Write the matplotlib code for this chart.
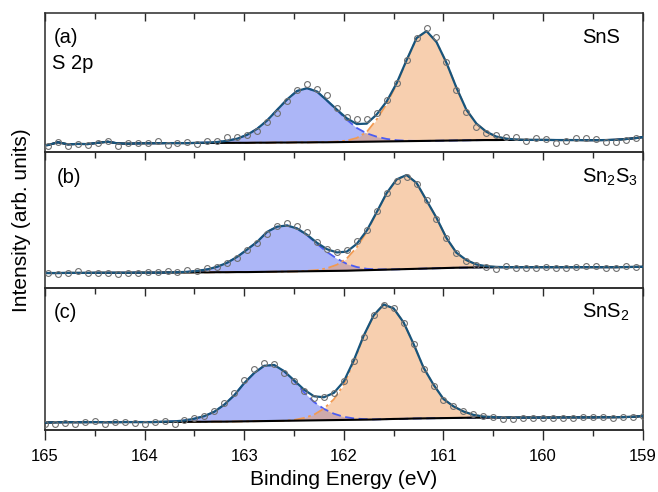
"""
plot_s2p.py — S 2p core-level spectra of SnS, Sn2S3 and SnS2.

Three stacked panels sharing the binding-energy axis. Each panel shows the
measured points, the Shirley-type background, the two doublet components
(S 2p1/2 in blue, S 2p3/2 in orange) and the total fit.
"""

import numpy as np
import matplotlib.pyplot as plt
from matplotlib.ticker import MultipleLocator

plt.rcParams["font.family"] = ["Liberation Sans", "DejaVu Sans"]
plt.rcParams["mathtext.fontset"] = "custom"
plt.rcParams["mathtext.rm"] = "Liberation Sans"

# binding energy grids (eV); SnS and Sn2S3 were sampled on an offset grid
be_ab = [165.07, 164.97, 164.87, 164.77, 164.67, 164.57, 164.47, 164.37, 164.27, 164.17,
         164.07, 163.97, 163.87, 163.77, 163.67, 163.57, 163.47, 163.37, 163.27, 163.17,
         163.07, 162.97, 162.87, 162.77, 162.67, 162.57, 162.47, 162.37, 162.27, 162.17,
         162.07, 161.97, 161.87, 161.77, 161.67, 161.57, 161.47, 161.37, 161.27, 161.17,
         161.07, 160.97, 160.87, 160.77, 160.67, 160.57, 160.47, 160.37, 160.27, 160.17,
         160.07, 159.97, 159.87, 159.77, 159.67, 159.57, 159.47, 159.37, 159.27, 159.17,
         159.07, 158.97]
be_c = [165.0, 164.9, 164.8, 164.7, 164.6, 164.5, 164.4, 164.3, 164.2, 164.1,
        164.0, 163.9, 163.8, 163.7, 163.6, 163.5, 163.4, 163.3, 163.2, 163.1,
        163.0, 162.9, 162.8, 162.7, 162.6, 162.5, 162.4, 162.3, 162.2, 162.1,
        162.0, 161.9, 161.8, 161.7, 161.6, 161.5, 161.4, 161.3, 161.2, 161.1,
        161.0, 160.9, 160.8, 160.7, 160.6, 160.5, 160.4, 160.3, 160.2, 160.1,
        160.0, 159.9, 159.8, 159.7, 159.6, 159.5, 159.4, 159.3, 159.2, 159.1,
        159.0]

# (a) SnS — intensities normalised to the panel height
data_a = [0.050, 0.046, 0.074, 0.046, 0.058, 0.050, 0.062, 0.079, 0.046, 0.062, 0.062,
          0.062, 0.079, 0.050, 0.067, 0.074, 0.058, 0.081, 0.081, 0.106, 0.110,
          0.120, 0.153, 0.218, 0.278, 0.369, 0.446, 0.487, 0.451, 0.412, 0.314,
          0.250, 0.236, 0.234, 0.280, 0.374, 0.494, 0.662, 0.818, 0.890, 0.825,
          0.650, 0.446, 0.290, 0.182, 0.134, 0.122, 0.110, 0.106, 0.081, 0.103,
          0.094, 0.067, 0.081, 0.098, 0.103, 0.091, 0.072, 0.074, 0.086, 0.098,
          0.105]
bg_a = [0.045, 0.050, 0.070, 0.055, 0.058, 0.057, 0.066, 0.074, 0.062, 0.060, 0.062,
        0.063, 0.063, 0.064, 0.064, 0.064, 0.065, 0.065, 0.065, 0.066, 0.066,
        0.066, 0.067, 0.067, 0.068, 0.068, 0.069, 0.069, 0.070, 0.070, 0.071,
        0.072, 0.073, 0.074, 0.075, 0.076, 0.077, 0.078, 0.079, 0.080, 0.081,
        0.082, 0.083, 0.084, 0.085, 0.086, 0.086, 0.087, 0.087, 0.087, 0.087,
        0.087, 0.086, 0.086, 0.086, 0.085, 0.085, 0.086, 0.088, 0.093, 0.100,
        0.110]
blue_a = [0, 0, 0, 0, 0, 0, 0, 0, 0, 0, 0,
          0, 0, 0, 0, 0, 0.001, 0.003, 0.007, 0.015, 0.030,
          0.058, 0.100, 0.160, 0.235, 0.310, 0.370, 0.390, 0.365, 0.300, 0.230,
          0.160, 0.100, 0.060, 0.035, 0.018, 0.008, 0.003, 0.001, 0, 0,
          0, 0, 0, 0, 0, 0, 0, 0, 0, 0,
          0, 0, 0, 0, 0, 0, 0, 0, 0, 0,
          0]
orange_a = [0, 0, 0, 0, 0, 0, 0, 0, 0, 0, 0,
            0, 0, 0, 0, 0, 0, 0, 0, 0, 0,
            0, 0, 0, 0, 0, 0, 0, 0, 0.001, 0.004,
            0.010, 0.028, 0.070, 0.160, 0.270, 0.410, 0.580, 0.740, 0.790, 0.710,
            0.560, 0.380, 0.220, 0.120, 0.060, 0.025, 0.009, 0.003, 0, 0,
            0, 0, 0, 0, 0, 0, 0, 0, 0, 0,
            0]

# (b) Sn2S3
data_b = [0.110, 0.114, 0.105, 0.114, 0.127, 0.114, 0.110, 0.114, 0.105, 0.110, 0.114,
          0.121, 0.121, 0.129, 0.121, 0.134, 0.129, 0.146, 0.158, 0.183, 0.219,
          0.280, 0.334, 0.402, 0.456, 0.480, 0.456, 0.414, 0.341, 0.285, 0.268,
          0.280, 0.348, 0.431, 0.565, 0.699, 0.787, 0.816, 0.768, 0.646, 0.512,
          0.366, 0.260, 0.202, 0.170, 0.158, 0.139, 0.163, 0.151, 0.151, 0.151,
          0.158, 0.151, 0.146, 0.154, 0.165, 0.163, 0.151, 0.151, 0.165, 0.158,
          0.160]
bg_b = [0.112, 0.112, 0.112, 0.113, 0.113, 0.113, 0.114, 0.114, 0.114, 0.114, 0.115,
        0.115, 0.115, 0.116, 0.116, 0.116, 0.117, 0.117, 0.118, 0.118, 0.119,
        0.119, 0.120, 0.121, 0.122, 0.123, 0.124, 0.125, 0.126, 0.127, 0.128,
        0.129, 0.131, 0.133, 0.135, 0.137, 0.139, 0.141, 0.143, 0.145, 0.147,
        0.149, 0.151, 0.152, 0.153, 0.154, 0.154, 0.155, 0.155, 0.155, 0.155,
        0.155, 0.155, 0.155, 0.155, 0.155, 0.155, 0.155, 0.155, 0.156, 0.157,
        0.158]
blue_b = [0, 0, 0, 0, 0, 0, 0, 0, 0, 0, 0,
          0, 0, 0, 0.002, 0.005, 0.011, 0.022, 0.040, 0.070, 0.112,
          0.166, 0.221, 0.293, 0.330, 0.338, 0.315, 0.265, 0.200, 0.140, 0.090,
          0.050, 0.025, 0.010, 0.004, 0.002, 0, 0, 0, 0, 0,
          0, 0, 0, 0, 0, 0, 0, 0, 0, 0,
          0, 0, 0, 0, 0, 0, 0, 0, 0, 0,
          0]
orange_b = [0, 0, 0, 0, 0, 0, 0, 0, 0, 0, 0,
            0, 0, 0, 0, 0, 0, 0, 0, 0, 0,
            0, 0, 0, 0, 0, 0, 0.003, 0.008, 0.020, 0.045,
            0.090, 0.170, 0.280, 0.420, 0.560, 0.660, 0.690, 0.630, 0.500, 0.370,
            0.220, 0.110, 0.055, 0.022, 0.008, 0.003, 0, 0, 0, 0,
            0, 0, 0, 0, 0, 0, 0, 0, 0, 0,
            0]

# (c) SnS2
data_c = [0.045, 0.040, 0.048, 0.040, 0.055, 0.064, 0.040, 0.055, 0.055, 0.048,
          0.040, 0.055, 0.060, 0.040, 0.071, 0.083, 0.102, 0.136, 0.190, 0.262,
          0.350, 0.429, 0.471, 0.464, 0.405, 0.345, 0.274, 0.226, 0.231, 0.262,
          0.345, 0.488, 0.655, 0.810, 0.881, 0.864, 0.755, 0.607, 0.429, 0.310,
          0.214, 0.171, 0.136, 0.112, 0.100, 0.090, 0.080, 0.076, 0.082, 0.083,
          0.085, 0.083, 0.085, 0.084, 0.093, 0.094, 0.090, 0.087, 0.090, 0.095,
          0.100]
bg_c = [0.052, 0.054, 0.055, 0.055, 0.055, 0.056, 0.055, 0.055, 0.056, 0.056,
        0.056, 0.056, 0.057, 0.057, 0.057, 0.058, 0.058, 0.059, 0.059, 0.060,
        0.061, 0.062, 0.063, 0.064, 0.065, 0.066, 0.067, 0.068, 0.069, 0.070,
        0.071, 0.072, 0.073, 0.074, 0.076, 0.078, 0.079, 0.081, 0.082, 0.083,
        0.084, 0.085, 0.086, 0.087, 0.087, 0.088, 0.088, 0.088, 0.088, 0.088,
        0.088, 0.088, 0.089, 0.089, 0.089, 0.089, 0.090, 0.090, 0.091, 0.093,
        0.098]
blue_c = [0, 0, 0, 0, 0, 0, 0, 0, 0, 0,
          0, 0, 0.002, 0.004, 0.010, 0.022, 0.040, 0.070, 0.120, 0.185,
          0.270, 0.340, 0.390, 0.395, 0.350, 0.280, 0.200, 0.130, 0.080, 0.045,
          0.022, 0.010, 0.004, 0.001, 0, 0, 0, 0, 0, 0,
          0, 0, 0, 0, 0, 0, 0, 0, 0, 0,
          0, 0, 0, 0, 0, 0, 0, 0, 0, 0,
          0]
orange_c = [0, 0, 0, 0, 0, 0, 0, 0, 0, 0,
            0, 0, 0, 0, 0, 0, 0, 0, 0, 0,
            0, 0, 0, 0, 0, 0.005, 0.018, 0.040, 0.082, 0.147,
            0.250, 0.410, 0.590, 0.735, 0.810, 0.780, 0.680, 0.526, 0.358, 0.237,
            0.135, 0.082, 0.045, 0.020, 0.008, 0.003, 0, 0, 0, 0,
            0, 0, 0, 0, 0, 0, 0, 0, 0, 0,
            0]

x_ticks = [165, 164, 163, 162, 161, 160, 159]

FIT_COLOR = "#17547c"
BLUE_FILL = "#5a6ef0"
ORANGE_FILL = "#f0a060"
BLUE_LINE = "#4b5cf2"
ORANGE_LINE = "#f29a52"
POINT_EDGE = "#707070"
SPINE = "#2a2a2a"


def draw_panel(ax, be, data, bg, blue, orange):
    """Background, both components, total fit and measured points."""
    bg = np.asarray(bg)
    blue_top = bg + np.asarray(blue)
    orange_top = bg + np.asarray(orange)
    fit = blue_top + np.asarray(orange)

    ax.fill_between(be, bg, blue_top, color=BLUE_FILL, alpha=0.5, lw=0, zorder=1)
    ax.fill_between(be, bg, orange_top, color=ORANGE_FILL, alpha=0.5, lw=0, zorder=1.1)
    ax.plot(be, blue_top, ls=(0, (5, 2.5)), color=BLUE_LINE, lw=1.3, zorder=2)
    ax.plot(be, orange_top, ls=(0, (6, 2, 1.5, 2)), color=ORANGE_LINE, lw=1.3, zorder=2.1)
    ax.plot(be, bg, color="black", lw=1.5, zorder=3)
    ax.plot(be, fit, color=FIT_COLOR, lw=1.6, zorder=4)
    ax.plot(be, data, ls="none", marker="o", ms=4.2, mfc="none",
            mec=POINT_EDGE, mew=0.8, zorder=5)

    ax.set_xlim(165, 159)
    ax.set_ylim(0, 1)
    ax.set_yticks([])
    ax.set_xticks(x_ticks)
    ax.xaxis.set_minor_locator(MultipleLocator(0.5))
    ax.tick_params(axis="x", which="both", direction="in", top=True, bottom=False,
                   labelbottom=False, color=SPINE, width=1.0)
    ax.tick_params(axis="x", which="major", length=5.5)
    ax.tick_params(axis="x", which="minor", length=4)
    for sp in ax.spines.values():
        sp.set_linewidth(1.1)
        sp.set_color(SPINE)
    ax.patch.set_visible(False)


def main(out_path):
    fig = plt.figure(figsize=(6.58, 4.92), dpi=100)
    left, width = 45 / 658, 597.7 / 658
    ax_a = fig.add_axes([left, 1 - 152 / 492, width, 139 / 492])
    ax_b = fig.add_axes([left, 1 - 288.3 / 492, width, 136.3 / 492])
    ax_c = fig.add_axes([left, 1 - 430 / 492, width, 141.7 / 492])

    draw_panel(ax_a, be_ab, data_a, bg_a, blue_a, orange_a)
    draw_panel(ax_b, be_ab, data_b, bg_b, blue_b, orange_b)
    draw_panel(ax_c, be_c, data_c, bg_c, blue_c, orange_c)

    txt = dict(fontsize=14.5, va="baseline")
    ax_a.text(0.014, 0.785, "(a)", transform=ax_a.transAxes, **txt)
    ax_a.text(0.012, 0.595, "S 2p", transform=ax_a.transAxes, **txt)
    ax_a.text(0.898, 0.785, "SnS", transform=ax_a.transAxes, **txt)
    ax_b.text(0.019, 0.775, "(b)", transform=ax_b.transAxes, **txt)
    ax_b.text(0.898, 0.775, r"$\mathregular{Sn_2S_3}$", transform=ax_b.transAxes, **txt)
    ax_c.text(0.015, 0.79, "(c)", transform=ax_c.transAxes, **txt)
    ax_c.text(0.898, 0.79, r"$\mathregular{SnS_2}$", transform=ax_c.transAxes, **txt)

    # bottom axis with outward ticks and labels
    sec = ax_c.secondary_xaxis("bottom")
    sec.set_xticks(x_ticks)
    sec.xaxis.set_minor_locator(MultipleLocator(0.5))
    sec.tick_params(axis="x", which="both", direction="out", color=SPINE, width=1.0,
                    labelsize=12, pad=7)
    sec.tick_params(axis="x", which="major", length=7)
    sec.tick_params(axis="x", which="minor", length=4)
    sec.spines["bottom"].set_linewidth(1.1)
    sec.spines["bottom"].set_color(SPINE)
    sec.set_xlabel("Binding Energy (eV)", fontsize=15, labelpad=4)

    fig.text(0.033, 0.553, "Intensity (arb. units)", rotation=90,
             ha="center", va="center", fontsize=15)

    fig.savefig(out_path, dpi=100)
    plt.close(fig)
    print(f"Saved to {out_path}")


if __name__ == "__main__":
    main("out.png")
